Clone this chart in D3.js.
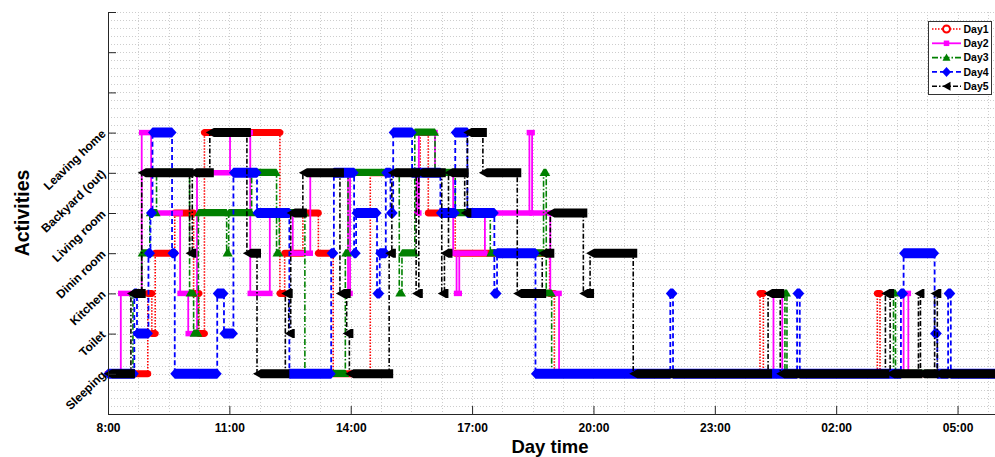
<!DOCTYPE html>
<html><head><meta charset="utf-8">
<script src="https://cdn.jsdelivr.net/npm/d3@7"></script>
<style>body{margin:0;background:#fff;} text{font-family:Arial,"Liberation Sans",sans-serif;}</style>
</head><body><svg id="c" width="995" height="457"></svg>
<script>
// ---- data ----
const activities = ["Sleeping","Toilet","Kitchen","Dinin room","Living room","Backyard (out)","Leaving home"]; // levels 1..7
const xTickValues = [8, 11, 14, 17, 20, 23, 26, 29];
const xTickLabels = ["8:00","11:00","14:00","17:00","20:00","23:00","02:00","05:00"];
const dayNames = ["Day1","Day2","Day3","Day4","Day5"];
const endTime = "6:00";
// [start time, activity level] — activity lasts until next entry
const day1 = [["8:00",1],["8:59",3],["9:05",2],["9:10",4],["9:39",5],["10:07",3],["10:15",2],["10:23",7],["12:15",3],["12:22",4],["12:49",5],["13:12",4],["13:34",1],["14:29",6],["15:43",7],["15:55",5],["16:35",4],["18:55",3],["19:02",1],["0:07",3],["0:12",1],["3:01",3],["3:05",1]];
const day2 = [["8:00",1],["8:19",3],["8:50",7],["9:04",5],["9:47",3],["9:59",2],["10:12",6],["11:01",7],["11:31",3],["12:00",5],["12:34",4],["13:00",6],["13:56",3],["13:59",6],["15:38",5],["15:41",7],["16:05",6],["16:32",4],["16:37",3],["16:41",4],["17:19",5],["18:25",7],["18:29",5],["18:56",3],["19:09",1],["0:27",3],["0:40",1],["3:40",3],["3:47",1]];
const day3 = [["8:00",1],["8:37",3],["8:50",4],["9:02",5],["9:12",6],["10:01",3],["10:07",2],["10:14",5],["10:56",4],["10:59",5],["11:33",6],["12:10",4],["12:14",5],["12:52",1],["13:52",4],["13:56",6],["15:12",3],["15:16",4],["15:35",7],["16:05",6],["16:35",5],["17:27",4],["18:46",6],["18:50",3],["18:58",1],["0:44",3],["0:47",1],["3:25",3],["3:28",1]];
const day4 = [["8:00",1],["8:39",3],["8:43",2],["9:00",4],["9:03",5],["9:06",7],["9:35",4],["9:39",1],["10:42",3],["10:52",2],["11:06",6],["11:41",5],["12:29",1],["13:31",4],["13:35",6],["14:05",4],["14:08",5],["14:39",3],["14:43",4],["14:52",6],["14:59",5],["15:03",7],["15:31",6],["16:13",5],["16:35",7],["16:53",5],["17:33",3],["17:37",4],["18:34",1],["21:54",3],["21:58",1],["1:02",3],["1:06",1],["3:36",3],["3:40",4],["4:26",2],["4:30",1],["4:46",3],["4:50",1]];
const day5 = [["8:00",1],["8:34",3],["8:50",6],["10:01",4],["10:05",6],["10:31",7],["11:26",4],["11:41",1],["12:23",3],["12:28",2],["12:31",5],["12:49",6],["13:44",3],["13:54",2],["13:58",1],["14:57",4],["15:01",6],["15:37",3],["15:41",6],["16:15",3],["16:19",4],["16:25",6],["16:49",5],["16:53",7],["17:16",6],["18:07",3],["18:44",4],["18:56",5],["19:45",3],["19:55",4],["20:59",1],["0:19",3],["0:37",1],["3:13",3],["3:20",1],["4:02",3],["4:05",1],["4:26",3],["4:30",1]];
const days = [day1, day2, day3, day4, day5];

// ---- styles ----
const styles = [
  {color:"#ff0000", dash:"1.5,1.5", width:1.6, marker:"circle", w:7, h:7, hollow:true},
  {color:"#ff00ff", dash:null, width:1.8, marker:"square", w:5.5, h:5.5},
  {color:"#008000", dash:"6,2,1.5,2", width:1.6, marker:"up", w:8, h:8},
  {color:"#0000ff", dash:"5,3", width:1.8, marker:"diamond", w:9, h:10},
  {color:"#000000", dash:"5,2,1.5,2", width:1.6, marker:"left", w:8, h:9}
];

const parseT = s => { const [h,m] = s.split(":").map(Number); let v = h + m/60; if (v < 8) v += 24; return v; };

const svg = d3.select("#c");
const x = d3.scaleLinear().domain([8, 30]).range([108, 998]);
const y = d3.scaleLinear().domain([0, 10]).range([414, 12]);

// grid
const grid = svg.append("g").attr("stroke","#cdcdcd").attr("stroke-width",1).attr("stroke-dasharray","1,2");
d3.range(8.75, 30.01, 0.75).forEach(v => grid.append("line").attr("x1",Math.round(x(v))+0.5).attr("x2",Math.round(x(v))+0.5).attr("y1",y(10)).attr("y2",y(0)));
d3.range(1, 51).map(i => i*0.2).forEach(v => grid.append("line").attr("x1",x(8)).attr("x2",x(30)).attr("y1",Math.round(y(v))+0.5).attr("y2",Math.round(y(v))+0.5));

function markerPts(m, cx, cy, st) {
  const w = st.w/2, h = st.h/2;
  switch (m) {
    case "circle": return d3.range(16).map(i => [cx + w*Math.cos(i*Math.PI/8), cy + h*Math.sin(i*Math.PI/8)]);
    case "square": return [[cx-w,cy-h],[cx+w,cy-h],[cx+w,cy+h],[cx-w,cy+h]];
    case "up": return [[cx,cy-h],[cx+w,cy+h*0.8],[cx-w,cy+h*0.8]];
    case "diamond": return [[cx,cy-h],[cx+w,cy],[cx,cy+h],[cx-w,cy]];
    case "left": return [[cx-w,cy],[cx+w,cy-h],[cx+w,cy+h]];
  }
}
const polyPath = pts => "M" + pts.map(p => p[0].toFixed(2)+","+p[1].toFixed(2)).join("L") + "Z";

const xEnd = parseT(endTime);
days.forEach((day, di) => {
  const st = styles[di];
  const pts = day.map(d => [parseT(d[0]), d[1]]);
  const stepPts = pts.concat([[xEnd, pts[pts.length-1][1]]]);
  const g = svg.append("g");
  g.append("path")
    .attr("d", d3.line().x(d => x(d[0])).y(d => y(d[1])).curve(d3.curveStepAfter)(stepPts))
    .attr("fill","none").attr("stroke", st.color).attr("stroke-width", st.width)
    .attr("stroke-dasharray", st.dash);
  pts.forEach((p, i) => {
    const t1 = i < pts.length-1 ? pts[i+1][0] : xEnd;
    const yy = y(p[1]);
    const hull = d3.polygonHull(markerPts(st.marker, x(p[0]), yy, st).concat(markerPts(st.marker, x(t1), yy, st)));
    g.append("path").attr("d", polyPath(hull)).attr("fill", st.color);
  });
});

// axes
const axisColor = "#262626";
const xa = svg.append("g").attr("transform","translate(0,414)")
  .call(d3.axisBottom(x).tickValues(xTickValues).tickSize(-8).tickSizeOuter(0).tickPadding(9).tickFormat((d,i)=>xTickLabels[i]));
xa.select(".domain").attr("stroke",axisColor);
xa.selectAll(".tick line").attr("stroke",axisColor);
xa.selectAll("text").attr("font-size",12).attr("font-weight","bold").attr("fill","#000").attr("font-family","Arial, 'Liberation Sans', sans-serif");

const ya = svg.append("g").attr("transform","translate(108,0)")
  .call(d3.axisLeft(y).tickValues(d3.range(0,11)).tickSize(-8).tickSizeOuter(0).tickFormat(""));
ya.select(".domain").attr("stroke",axisColor);
ya.selectAll(".tick line").attr("stroke",axisColor);
activities.forEach((a, i) => {
  const ty = y(i+1);
  svg.append("text").attr("transform",`translate(106.5,${ty+2}) rotate(-44)`)
    .attr("text-anchor","end").attr("font-size",12).attr("font-weight","bold").text(a);
});

svg.append("text").attr("transform","translate(29,213) rotate(-90)").attr("text-anchor","middle")
  .attr("font-size",19.5).attr("font-weight","bold").text("Activities");
svg.append("text").attr("x",550).attr("y",453).attr("text-anchor","middle")
  .attr("font-size",18.5).attr("font-weight","bold").text("Day time");

// legend
const lg = svg.append("g");
lg.append("rect").attr("x",928.5).attr("y",21.5).attr("width",63).attr("height",73).attr("fill","#fff").attr("stroke","#333").attr("stroke-width",1);
dayNames.forEach((n, i) => {
  const st = styles[i];
  const ly = 29 + i*14.3;
  lg.append("line").attr("x1",932).attr("x2",961).attr("y1",ly).attr("y2",ly)
    .attr("stroke",st.color).attr("stroke-width",st.width).attr("stroke-dasharray",st.dash);
  const mk = lg.append("path").attr("d", polyPath(markerPts(st.marker, 946.5, ly, st)));
  if (st.hollow) mk.attr("fill","#fff").attr("stroke",st.color).attr("stroke-width",2);
  else mk.attr("fill", st.color);
  lg.append("text").attr("x",963.5).attr("y",ly).attr("dy","0.35em").attr("font-size",10.5).attr("font-weight","bold").text(n);
});
</script></body></html>
